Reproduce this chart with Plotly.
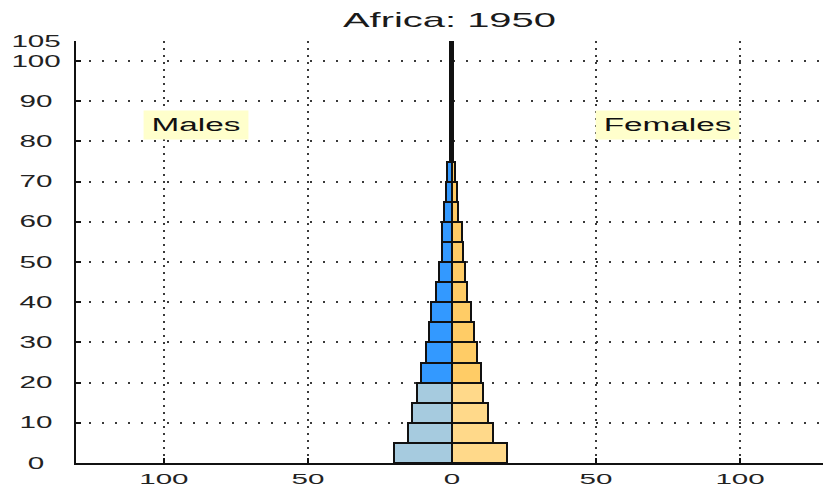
import plotly.graph_objects as go

# ---- data ----
age_groups = ["0-4", "5-9", "10-14", "15-19", "20-24", "25-29", "30-34", "35-39",
              "40-44", "45-49", "50-54", "55-59", "60-64", "65-69", "70-74",
              "75-79", "80-84", "85-89", "90-94", "95-99", "100+"]
age_start = [0, 5, 10, 15, 20, 25, 30, 35, 40, 45, 50, 55, 60, 65, 70, 75, 80, 85, 90, 95, 100]
males = [20.0, 15.4, 13.7, 12.0, 10.8, 9.1, 8.1, 7.3, 5.7, 4.6, 3.6, 3.5, 2.7, 1.9, 1.7,
         0.8, 0.8, 0.7, 0.7, 0.7, 0.7]
females = [19.1, 14.4, 12.6, 10.7, 10.0, 8.6, 7.6, 6.7, 5.3, 4.4, 3.8, 3.4, 2.1, 1.6, 1.0,
           0.4, 0.3, 0.3, 0.3, 0.3, 0.3]
x_tick_vals = [-100, -50, 0, 50, 100]
x_tick_text = ["100", "50", "0", "50", "100"]
y_tick_vals = [0, 10, 20, 30, 40, 50, 60, 70, 80, 90, 100, 105]
title_text = "Africa: 1950"

# ---- styling ----
GROUP_W = 5
centers = [a + GROUP_W / 2 for a in age_start]
male_colors = ["#a6cbdf" if a < 20 else "#3399ff" for a in age_start]
female_colors = ["#ffd98a" if a < 20 else "#ffcc66" for a in age_start]
FONT = "Liberation Sans, Arial, sans-serif"
edge = dict(color="#111111", width=2)

fig = go.Figure()
fig.add_trace(go.Bar(
    y=centers, x=[-v for v in males], base=0, orientation="h", width=GROUP_W,
    marker=dict(color=male_colors, line=edge), name="Males",
    customdata=age_groups, hoverinfo="skip"))
fig.add_trace(go.Bar(
    y=centers, x=females, base=0, orientation="h", width=GROUP_W,
    marker=dict(color=female_colors, line=edge), name="Females",
    customdata=age_groups, hoverinfo="skip"))

axis_common = dict(
    showline=True, linecolor="#111111", linewidth=2, mirror=False,
    ticks="inside", ticklen=5, tickwidth=2, tickcolor="#111111",
    zeroline=False, showgrid=True, gridcolor="#3a3a3a", gridwidth=1.5,
    automargin=False,
)

fig.update_layout(
    width=823, height=488,
    margin=dict(l=76, r=0, t=41, b=25, pad=0, autoexpand=False),
    paper_bgcolor="white", plot_bgcolor="white",
    barmode="overlay", bargap=0, showlegend=False,
    title=dict(text=title_text, x=0.5, xref="paper", y=1 - 19.5 / 488, yref="container",
               yanchor="middle", automargin=False,
               font=dict(family=FONT, size=21, color="#1a1a1a")),
    xaxis=dict(range=[-130.5, 128.8], tickvals=x_tick_vals, ticktext=x_tick_text,
               griddash="2px,5px", ticklabelstandoff=1,
               tickfont=dict(family=FONT, size=15, color="#222222"), **axis_common),
    yaxis=dict(range=[0, 105], tickvals=y_tick_vals, griddash="2px,11px",
               ticklabelstandoff=10,
               tickfont=dict(family=FONT, size=16, color="#222222"), **axis_common),
    annotations=[
        dict(x=-89, y=84, xref="x", yref="y", text="Males", showarrow=False,
             bgcolor="#ffffcc", borderpad=4,
             font=dict(family=FONT, size=18, color="#111111")),
        dict(x=74.7, y=84.2, xref="x", yref="y", text="Females", showarrow=False,
             bgcolor="#ffffcc", borderpad=4,
             font=dict(family=FONT, size=18, color="#111111")),
    ],
)

# Page has no body margin; horizontal text stretch (the reference text is drawn wide),
# text stays real SVG text.
post = r"""
(function(){
  document.documentElement.style.margin = '0';
  document.body.style.margin = '0';
  document.body.style.padding = '0';
  var gd = document.getElementById('{plot_id}');
  function stretch(){
    if (!gd) return;
    var texts = gd.querySelectorAll('svg text');
    texts.forEach(function(t){
      if (t.getAttribute('data-st') === '1') return;
      var w = t.getComputedTextLength();
      if (!w) return;
      var s = 1.85;
      if (t.classList.contains('gtitle')) s = 1.9;
      if (t.closest && t.closest('g.xtick')) s = 1.97;
      t.setAttribute('textLength', (w * s).toFixed(2));
      t.setAttribute('lengthAdjust', 'spacingAndGlyphs');
      t.setAttribute('data-st', '1');
      t.setAttribute('data-w', (w * s).toFixed(2));
    });
    var yt = gd.querySelectorAll('g.ytick text');
    var maxW = 0;
    yt.forEach(function(t){ maxW = Math.max(maxW, parseFloat(t.getAttribute('data-w') || 0)); });
    yt.forEach(function(t){
      if (t.getAttribute('data-c') === '1') return;
      var x = parseFloat(t.getAttribute('x'));
      t.setAttribute('text-anchor', 'middle');
      t.setAttribute('x', (x - maxW / 2).toFixed(2));
      t.setAttribute('data-c', '1');
    });
    gd.querySelectorAll('g.annotation').forEach(function(g){
      var r = g.querySelector('rect.bg');
      var t = g.querySelector('text.annotation-text');
      if (!r || !t || r.getAttribute('data-st') === '1') return;
      var w0 = parseFloat(r.getAttribute('width'));
      var tw = parseFloat(t.getAttribute('data-w') || 0);
      var w1 = tw + 16;
      var x0 = parseFloat(r.getAttribute('x') || 0);
      r.setAttribute('x', (x0 - (w1 - w0) / 2).toFixed(2));
      r.setAttribute('width', w1.toFixed(2));
      r.setAttribute('data-st', '1');
    });
  }
  stretch();
  setTimeout(stretch, 50);
  if (gd && gd.on) gd.on('plotly_afterplot', function(){ setTimeout(stretch, 0); });
})();
"""

fig.write_html("out.html", include_plotlyjs=True, post_script=post,
               config={"displayModeBar": False, "responsive": False})
